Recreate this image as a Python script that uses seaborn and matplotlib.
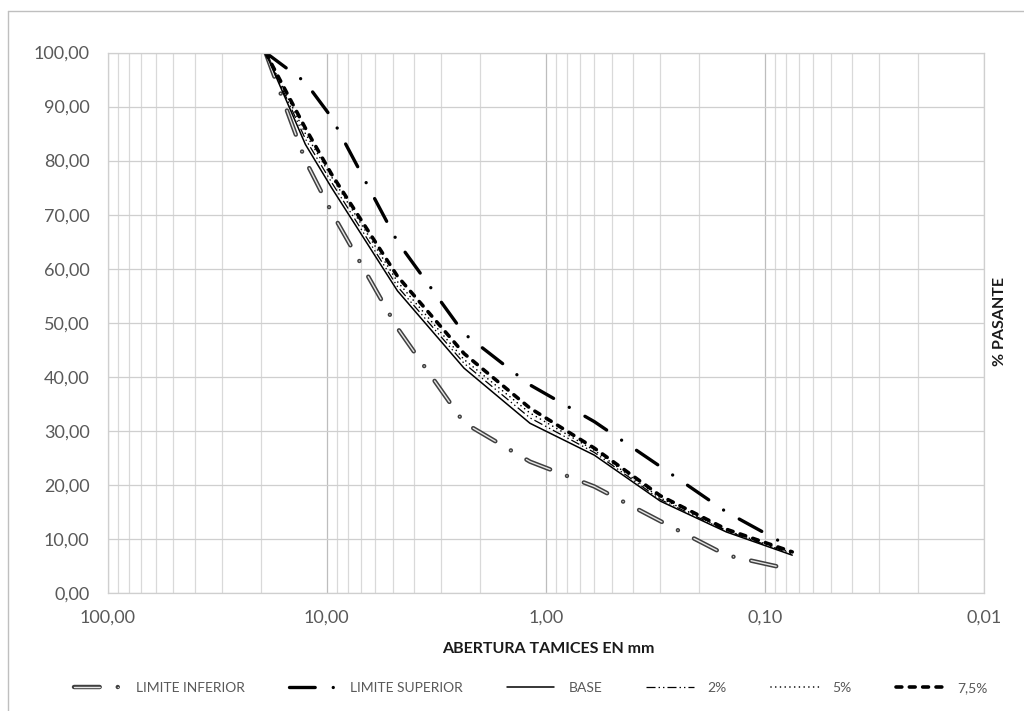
import matplotlib
matplotlib.use("Agg")
import numpy as np
import pandas as pd
import matplotlib.pyplot as plt
import matplotlib.patheffects as pe
from matplotlib.lines import Line2D
from matplotlib.ticker import FixedLocator, LogLocator, NullFormatter, FixedFormatter
import seaborn as sns

# ---------------- data ----------------
sieve_mm = [19.0, 12.5, 9.5, 4.75, 2.36, 1.18, 0.6, 0.3, 0.15, 0.075]
limite_inferior = [100.0, 80.0, 70.5, 49.0, 31.5, 24.3, 19.7, 13.3, 7.0, 4.3]
limite_superior = [100.0, 94.5, 88.0, 65.0, 48.0, 38.5, 31.7, 23.4, 15.0, 8.3]
base = [100.0, 83.0, 75.0, 55.9, 41.6, 31.4, 25.5, 17.0, 11.3, 7.0]
pct_2 = [100.0, 84.0, 76.0, 56.7, 42.5, 32.4, 26.0, 17.3, 11.5, 7.2]
pct_5 = [100.0, 85.0, 77.0, 57.6, 43.2, 33.3, 26.4, 17.6, 11.6, 7.4]
pct_7_5 = [100.0, 86.0, 77.5, 58.6, 44.3, 34.2, 26.8, 18.0, 11.8, 7.6]

series_names = ["LIMITE INFERIOR", "LIMITE SUPERIOR", "BASE", "2%", "5%", "7,5%"]
x_tick_values = [100, 10, 1, 0.1, 0.01]
x_tick_labels = ["100,00", "10,00", "1,00", "0,10", "0,01"]
y_tick_values = [0, 10, 20, 30, 40, 50, 60, 70, 80, 90, 100]
y_tick_labels = ["0,00", "10,00", "20,00", "30,00", "40,00", "50,00",
                 "60,00", "70,00", "80,00", "90,00", "100,00"]
x_label = "ABERTURA TAMICES EN mm"
y_label = "% PASANTE"

df = pd.DataFrame({
    "abertura": sieve_mm,
    "LIMITE INFERIOR": limite_inferior,
    "LIMITE SUPERIOR": limite_superior,
    "BASE": base,
    "2%": pct_2,
    "5%": pct_5,
    "7,5%": pct_7_5,
})

# ---------------- style ----------------
sns.set_theme(style="white")
plt.rcParams["font.family"] = ["Lato", "DejaVu Sans"]
plt.rcParams["lines.scale_dashes"] = False

W, H = 1024, 711
fig = plt.figure(figsize=(W / 100, H / 100), dpi=100)
fig.patch.set_facecolor("white")
ax = fig.add_axes([107.5 / W, 1 - 593 / H, (984 - 107.5) / W, (593 - 52.5) / H])
ax.set_facecolor("white")

styles = {
    "LIMITE INFERIOR": dict(color="#e6e6e6", linewidth=1.0,
                            linestyle=(0, (18.5, 13.0, 0.01, 13.0)),
                            dash_capstyle="round",
                            path_effects=[pe.Stroke(linewidth=3.2, foreground="#404040"), pe.Normal()]),
    "LIMITE SUPERIOR": dict(color="black", linewidth=2.4,
                            linestyle=(0, (18.5, 13.0, 0.01, 13.0)),
                            dash_capstyle="round"),
    "BASE": dict(color="black", linewidth=1.1, linestyle="-"),
    "2%": dict(color="black", linewidth=0.9,
               linestyle=(0, (6.5, 2.2, 1.0, 2.2, 1.0, 2.2))),
    "5%": dict(color="black", linewidth=1.2,
               linestyle=(0, (0.01, 3.4)), dash_capstyle="round"),
    "7,5%": dict(color="black", linewidth=2.6,
                 linestyle=(0, (4.2, 5.4)), dash_capstyle="round"),
}

for name in series_names:
    sns.lineplot(data=df, x="abertura", y=name, ax=ax, estimator=None,
                 sort=False, legend=False, **styles[name])

# ---------------- axes ----------------
ax.set_xscale("log")
ax.set_xlim(100, 0.01)
ax.set_ylim(0, 100)
ax.xaxis.set_major_locator(FixedLocator(x_tick_values))
ax.xaxis.set_major_formatter(FixedFormatter(x_tick_labels))
ax.xaxis.set_minor_locator(LogLocator(base=10, subs=np.arange(2, 10), numticks=20))
ax.xaxis.set_minor_formatter(NullFormatter())
ax.yaxis.set_major_locator(FixedLocator(y_tick_values))
ax.yaxis.set_major_formatter(FixedFormatter(y_tick_labels))

ax.grid(False)
ax.grid(which="major", axis="x", color="#bdbdbd", linewidth=0.9)
ax.grid(which="minor", axis="x", color="#d9d9d9", linewidth=0.9)
ax.grid(which="major", axis="y", color="#cfcfcf", linewidth=0.9)
for sp in ax.spines.values():
    sp.set_visible(True)
    sp.set_color("#cfcfcf")
    sp.set_linewidth(0.9)

ax.tick_params(axis="both", which="both", length=0, labelsize=13, colors="#595959")
ax.tick_params(axis="x", pad=12)
ax.tick_params(axis="y", pad=13)
ax.set_xlabel("")
ax.set_ylabel("")

fig.text(548 / W, 1 - 649 / H, x_label, ha="center", va="center",
         fontsize=11.5, fontweight="bold", color="#1a1a1a")
fig.text(1000 / W, 1 - 321 / H, y_label, ha="center", va="center", rotation=90,
         fontsize=11.5, fontweight="bold", color="#1a1a1a")

# legend
handles = [Line2D([], [], **styles[n]) for n in series_names]
fig.legend(handles, series_names, loc="center", bbox_to_anchor=(531 / W, 1 - 688 / H),
           ncol=6, frameon=False, fontsize=10, handlelength=3.4, handletextpad=1.0,
           columnspacing=3.2, labelcolor="#595959")

# chart-area border (left & top visible)
fig.add_artist(Line2D([8 / W, 8 / W], [1 - 11 / H, 0], transform=fig.transFigure,
                      color="#bfbfbf", linewidth=1.0))
fig.add_artist(Line2D([8 / W, 1], [1 - 11 / H, 1 - 11 / H], transform=fig.transFigure,
                      color="#bfbfbf", linewidth=1.0))

fig.savefig("out.png", dpi=100)
